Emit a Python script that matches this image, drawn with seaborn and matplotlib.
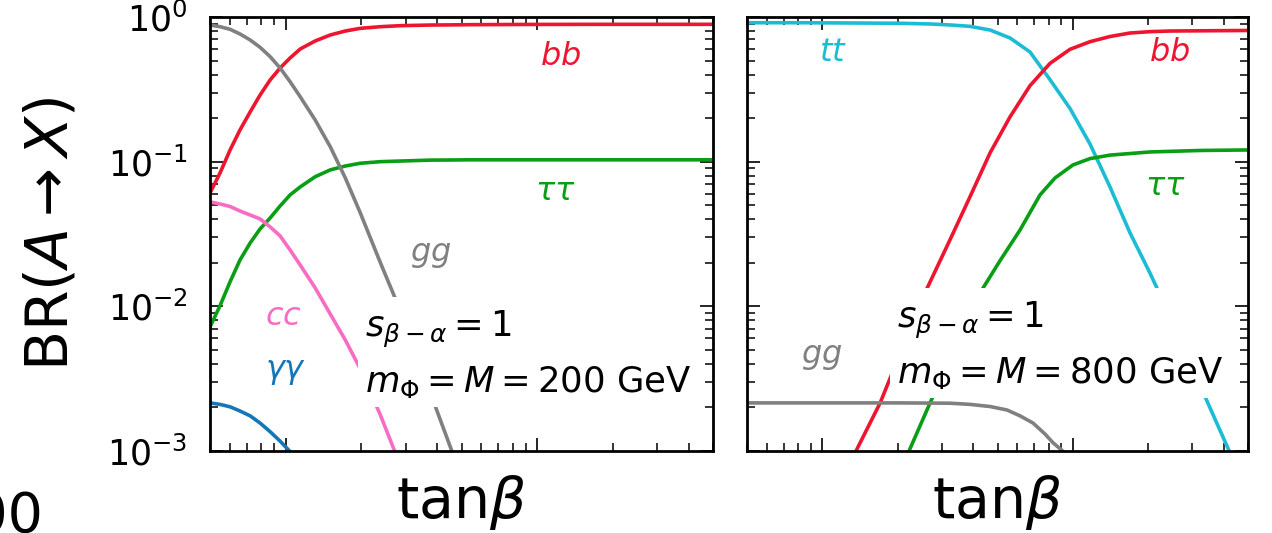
import numpy as np
import pandas as pd
import matplotlib
matplotlib.use("Agg")
import matplotlib.pyplot as plt
from matplotlib.ticker import LogLocator, NullFormatter
import seaborn as sns

# ---- branching ratios of the CP-odd scalar A, m_Phi = M = 200 GeV ----
tb_200 = [0.5, 0.548, 0.601, 0.658, 0.722, 0.791, 0.867, 0.95, 1.041, 1.142,
          1.31, 1.503, 1.725, 1.98, 2.38, 2.86, 3.76, 4.52, 5.43, 8.6, 17.9, 50]

br_bb_200 = [0.0607, 0.0835, 0.1205, 0.1656, 0.2206, 0.289, 0.367, 0.444, 0.521, 0.601,
             0.683, 0.751, 0.800, 0.835, 0.857, 0.871, 0.880, 0.882, 0.885, 0.888, 0.89, 0.89]

br_tautau_200 = [0.0072, 0.0101, 0.0148, 0.0209, 0.0274, 0.0343, 0.0408, 0.0494, 0.0589, 0.0669,
                 0.0787, 0.0877, 0.0933, 0.0975, 0.100, 0.101, 0.1025, 0.1027, 0.103, 0.103, 0.103, 0.103]

tb_gg_200 = [0.5, 0.548, 0.601, 0.658, 0.722, 0.791, 0.867, 0.95, 1.041, 1.142,
             1.31, 1.503, 1.725, 1.98, 2.38, 2.86, 3.76, 4.52, 5.43]
br_gg_200 = [0.88, 0.857, 0.822, 0.763, 0.694, 0.617, 0.532, 0.444, 0.357, 0.281,
             0.194, 0.127, 0.0773, 0.0442, 0.0200, 0.00929, 0.00252, 0.00106, 0.00044]

tb_cc_200 = [0.5, 0.548, 0.601, 0.658, 0.722, 0.791, 0.867, 0.95, 1.041, 1.142,
             1.31, 1.503, 1.725, 1.98, 2.38, 2.86]
br_cc_200 = [0.0527, 0.0510, 0.0490, 0.0456, 0.0428, 0.0402, 0.0354, 0.0307, 0.0245, 0.0193,
             0.0134, 0.00886, 0.00586, 0.00369, 0.00177, 0.00079]

tb_aa_200 = [0.5, 0.548, 0.601, 0.658, 0.722, 0.791, 0.867, 0.95, 1.041, 1.142]
br_aa_200 = [0.00215, 0.0021, 0.00202, 0.00189, 0.00175, 0.00156, 0.00136, 0.00117, 0.00099, 0.00081]

# ---- branching ratios of the CP-odd scalar A, m_Phi = M = 800 GeV ----
tb_tt_800 = [0.5, 0.814, 1.289, 2.04, 2.69, 3.23, 3.88, 4.67, 5.61, 6.74, 8.10, 9.74,
             11.70, 14.06, 16.9, 20.3, 24.4, 29.3, 35.2, 42.4, 50]
br_tt_800 = [0.913, 0.913, 0.909, 0.905, 0.895, 0.881, 0.862, 0.813, 0.716, 0.573, 0.369, 0.233,
             0.1325, 0.0669, 0.0322, 0.0170, 0.00859, 0.00413, 0.0020, 0.00097, 0.0005]

tb_bb_800 = [1.175, 1.35, 1.70, 2.04, 2.52, 3.23, 3.88, 4.67, 5.61, 6.74, 8.10, 9.74,
             11.70, 14.06, 16.9, 20.3, 24.4, 50]
br_bb_800 = [0.0006, 0.00097, 0.00215, 0.00469, 0.0116, 0.0288, 0.057, 0.115, 0.204, 0.335, 0.478, 0.598,
             0.675, 0.733, 0.775, 0.792, 0.800, 0.807]

tb_tautau_800 = [1.95, 2.2, 2.69, 3.23, 4.26, 5.11, 6.15, 7.39, 8.48, 10.0, 11.7, 14.06, 20.3, 32.2, 50]
br_tautau_800 = [0.00061, 0.00097, 0.00215, 0.00433, 0.0124, 0.0206, 0.0337, 0.0589, 0.0771, 0.0949,
                 0.105, 0.111, 0.1167, 0.1195, 0.1205]

tb_gg_800 = [0.5, 2.04, 3.23, 3.88, 4.67, 5.46, 6.15, 6.93, 7.74, 8.33, 9.30, 10.67]
br_gg_800 = [0.00215, 0.00215, 0.00214, 0.0021, 0.00203, 0.00192, 0.00175, 0.00156, 0.00131,
             0.00114, 0.00097, 0.00076]

colors = {
    "bb": "#ee1530",
    "tautau": "#0a9e16",
    "gg": "#808080",
    "cc": "#f86cc4",
    "aa": "#1677b8",
    "tt": "#1cbdd4",
}


def long_table(pairs):
    frames = []
    for name, (tb, br) in pairs.items():
        frames.append(pd.DataFrame({"tanb": tb, "BR": br, "channel": name}))
    return pd.concat(frames, ignore_index=True)


df200 = long_table({
    "bb": (tb_200, br_bb_200),
    "tautau": (tb_200, br_tautau_200),
    "gg": (tb_gg_200, br_gg_200),
    "cc": (tb_cc_200, br_cc_200),
    "aa": (tb_aa_200, br_aa_200),
})
df800 = long_table({
    "tt": (tb_tt_800, br_tt_800),
    "bb": (tb_bb_800, br_bb_800),
    "tautau": (tb_tautau_800, br_tautau_800),
    "gg": (tb_gg_800, br_gg_800),
})

sns.set_style("ticks", {"xtick.direction": "in", "ytick.direction": "in"})
plt.rcParams["font.family"] = ["DejaVu Sans"]
plt.rcParams["mathtext.fontset"] = "dejavusans"
for key in ("text.color", "axes.labelcolor", "xtick.color", "ytick.color", "axes.edgecolor"):
    plt.rcParams[key] = "black"

W, H = 1272, 533
fig = plt.figure(figsize=(W / 100, H / 100), dpi=100)
ax1 = fig.add_axes([210 / W, 1 - 451 / H, 503 / W, 434 / H])
ax2 = fig.add_axes([747 / W, 1 - 451 / H, 501 / W, 434 / H])

for ax, df in ((ax1, df200), (ax2, df800)):
    sns.lineplot(data=df, x="tanb", y="BR", hue="channel", palette=colors,
                 legend=False, linewidth=2.6, sort=True, ax=ax)
    ax.set_xscale("log")
    ax.set_yscale("log")
    ax.set_xlim(0.5, 50)
    ax.set_ylim(1e-3, 1)
    ax.xaxis.set_major_locator(LogLocator(base=10, numticks=10))
    ax.xaxis.set_minor_locator(LogLocator(base=10, subs=np.arange(2, 10), numticks=20))
    ax.yaxis.set_major_locator(LogLocator(base=10, numticks=10))
    ax.yaxis.set_minor_locator(LogLocator(base=10, subs=np.arange(2, 10), numticks=20))
    ax.xaxis.set_major_formatter(NullFormatter())
    ax.xaxis.set_minor_formatter(NullFormatter())
    ax.yaxis.set_minor_formatter(NullFormatter())
    ax.tick_params(which="both", direction="in", top=True, right=True, color="black")
    ax.tick_params(which="major", length=9.5, width=1.2, labelsize=25, pad=16)
    ax.tick_params(which="minor", length=5.5, width=1.1)
    for sp in ax.spines.values():
        sp.set_linewidth(2.0)
        sp.set_color("black")
    ax.set_xlabel(r"tan$\beta$", fontsize=41, labelpad=0)
    ax.set_ylabel("")

ax2.yaxis.set_major_formatter(NullFormatter())
ax1.set_ylabel(r"BR$(A \rightarrow X)$", fontsize=42, labelpad=20)

# channel labels next to the curves
lab = dict(fontsize=23, ha="center", va="center")
ax1.text(12.4, 0.53, r"$bb$", color=colors["bb"], **lab)
ax1.text(11.8, 0.062, r"$\tau\tau$", color=colors["tautau"], **lab)
ax1.text(3.76, 0.0227, r"$gg$", color=colors["gg"], **lab)
ax1.text(0.977, 0.00845, r"$cc$", color=colors["cc"], **lab)
ax1.text(1.0, 0.00352, r"$\gamma\gamma$", color=colors["aa"], **lab)

ax2.text(1.10, 0.564, r"$tt$", color=colors["tt"], **lab)
ax2.text(24.4, 0.564, r"$bb$", color=colors["bb"], **lab)
ax2.text(23.3, 0.067, r"$\tau\tau$", color=colors["tautau"], **lab)
ax2.text(0.995, 0.0045, r"$gg$", color=colors["gg"], **lab)

# parameter boxes (anchored at the baseline of the lower line)
box = dict(facecolor="white", edgecolor="none", boxstyle="square,pad=0.2")
ax1.text(0.308, 0.136, "$s_{\\beta-\\alpha} = 1$\n$m_\\Phi = M = 200$ GeV",
         transform=ax1.transAxes, fontsize=25.5, ha="left", va="baseline",
         linespacing=1.5, bbox=box, zorder=5)
ax2.text(0.300, 0.157, "$s_{\\beta-\\alpha} = 1$\n$m_\\Phi = M = 800$ GeV",
         transform=ax2.transAxes, fontsize=25.5, ha="left", va="baseline",
         linespacing=1.5, bbox=box, zorder=5)

# edge of a neighbouring label
fig.text(44 / W, 1 - 490 / H, "200", fontsize=40, ha="right", va="top")

fig.savefig("out.png", dpi=100)
